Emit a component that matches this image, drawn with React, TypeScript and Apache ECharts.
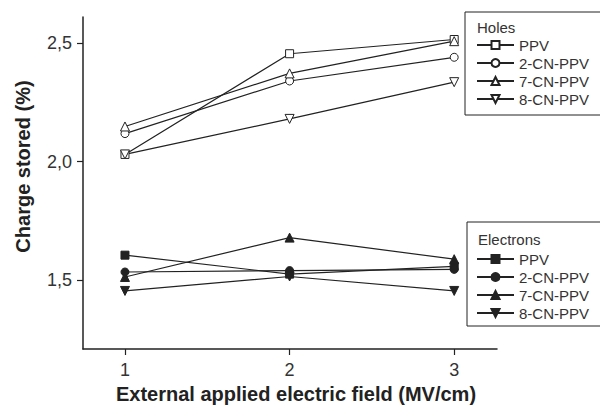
import React, { useEffect, useRef } from "react";
import * as echarts from "echarts";

const fieldValues = [1, 2, 3];
const holesPPV = [2.03, 2.455, 2.515];
const holes2CN = [2.118, 2.34, 2.44];
const holes7CN = [2.148, 2.372, 2.508];
const holes8CN = [2.03, 2.18, 2.335];
const elecPPV = [1.605, 1.525, 1.558];
const elec2CN = [1.534, 1.54, 1.545];
const elec7CN = [1.513, 1.679, 1.588];
const elec8CN = [1.454, 1.515, 1.454];
const yTicks = [1.5, 2.0, 2.5];
const xTicks = [1, 2, 3];
const materials = ["PPV", "2-CN-PPV", "7-CN-PPV", "8-CN-PPV"];

const FONT = "'Liberation Sans', Arial, sans-serif";
const INK = "#222";
const DOWN = "path://M0,0L10,0L5,9Z";
const symbols = ["rect", "circle", "triangle", DOWN];
const sizes = [8, 8, 9, 9];

function pairs(vals: number[]) {
  return fieldValues.map((x, i) => [x, vals[i]]);
}

export default function App() {
  const ref = useRef<HTMLDivElement>(null);
  useEffect(() => {
    if (!ref.current) return;
    const chart = echarts.init(ref.current, null, { renderer: "svg" });
    const holes = [holesPPV, holes2CN, holes7CN, holes8CN];
    const elecs = [elecPPV, elec2CN, elec7CN, elec8CN];
    const series: any[] = [];
    holes.forEach((v, i) => {
      series.push({
        type: "line",
        name: "h:" + materials[i],
        data: pairs(v),
        symbol: symbols[i],
        symbolSize: sizes[i],
        lineStyle: { color: INK, width: 1.2 },
        itemStyle: { color: "#fff", borderColor: INK, borderWidth: 1 },
      });
    });
    elecs.forEach((v, i) => {
      series.push({
        type: "line",
        name: "e:" + materials[i],
        data: pairs(v),
        symbol: symbols[i],
        symbolSize: sizes[i],
        lineStyle: { color: INK, width: 1.2 },
        itemStyle: { color: INK, borderColor: INK, borderWidth: 1 },
      });
    });
    const legendBase = {
      orient: "vertical",
      left: 471,
      itemWidth: 37,
      itemHeight: 10,
      itemGap: 0,
      selectedMode: false,
      formatter: (n: string) => n.slice(2),
      textStyle: { fontSize: 15, lineHeight: 18, fontFamily: FONT, color: "#333" },
    };
    chart.setOption({
      animation: false,
      backgroundColor: "#fff",
      grid: { left: 83, top: 17, right: 103, bottom: 61, containLabel: false },
      xAxis: {
        type: "value",
        min: 0.745,
        max: 3.26,
        name: "External applied electric field (MV/cm)",
        nameLocation: "middle",
        nameGap: 34,
        nameTextStyle: { fontFamily: FONT, fontSize: 20, fontWeight: "bold", color: INK, padding: [0, 0, 0, 12] },
        axisLine: { lineStyle: { color: INK, width: 1.5 } },
        axisTick: { show: true, length: 6, customValues: xTicks, lineStyle: { color: INK, width: 1.2 } },
        axisLabel: { customValues: xTicks, margin: 12, fontFamily: FONT, fontSize: 18, color: "#333" },
        splitLine: { show: false },
      },
      yAxis: {
        type: "value",
        min: 1.209,
        max: 2.61,
        name: "Charge stored (%)",
        nameLocation: "middle",
        nameGap: 50,
        nameTextStyle: { fontFamily: FONT, fontSize: 20, fontWeight: "bold", color: INK, padding: [0, 0, 0, 33] },
        axisLine: { show: true, lineStyle: { color: INK, width: 1.5 } },
        axisTick: { show: true, length: 6, customValues: yTicks, lineStyle: { color: INK, width: 1.2 } },
        axisLabel: {
          customValues: yTicks,
          margin: 11,
          fontFamily: FONT,
          fontSize: 18,
          color: "#333",
          formatter: (v: number) => v.toFixed(1).replace(".", ","),
        },
        splitLine: { show: false },
      },
      legend: [
        { ...legendBase, top: 31, data: materials.map((m) => "h:" + m) },
        { ...legendBase, top: 245, data: materials.map((m) => "e:" + m) },
      ],
      graphic: [
        { type: "rect", shape: { x: 465, y: 12, width: 140, height: 103 }, style: { fill: "none", stroke: INK, lineWidth: 1 } },
        { type: "rect", shape: { x: 467, y: 222, width: 140, height: 104 }, style: { fill: "none", stroke: INK, lineWidth: 1 } },
        { type: "text", x: 477, y: 27, style: { text: "Holes", fontFamily: FONT, fontSize: 15, fill: "#333", verticalAlign: "middle" } },
        { type: "text", x: 478, y: 239, style: { text: "Electrons", fontFamily: FONT, fontSize: 15, fill: "#333", verticalAlign: "middle" } },
      ],
      series,
    });
    return () => chart.dispose();
  }, []);
  return <div ref={ref} style={{ position: "fixed", left: 0, top: 0, width: 600, height: 410 }} />;
}
